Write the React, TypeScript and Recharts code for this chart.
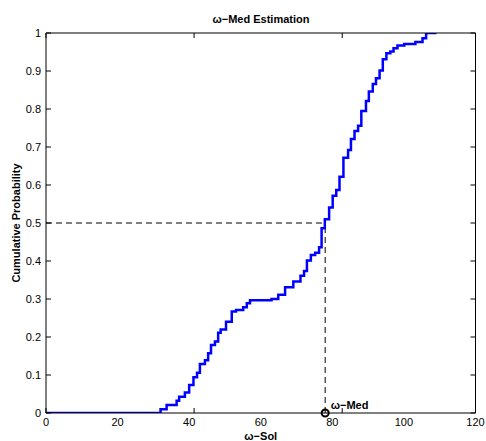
import React from 'react';
import { LineChart, Line, XAxis, YAxis, ReferenceLine, ReferenceDot } from 'recharts';

const cdfX = [0, 32.0, 33.7, 36.5, 37.2, 38.8, 40.0, 41.2, 42.2, 43.0, 44.4, 45.3, 46.1, 47.2, 48.1, 48.8, 50.3, 51.9, 53.1, 55.1, 56.1, 57.0, 63.0, 64.9, 66.8, 69.1, 71.1, 72.1, 72.9, 74.0, 75.2, 76.3, 77.0, 77.9, 79.1, 80.1, 81.1, 82.0, 83.1, 84.4, 85.2, 86.2, 87.2, 88.1, 89.4, 90.2, 91.3, 92.2, 93.2, 94.1, 95.1, 96.2, 97.1, 98.2, 100.1, 103.2, 105.2, 106.2, 109.1];
const cdfY = [0, 0.01, 0.021, 0.032, 0.043, 0.054, 0.074, 0.094, 0.106, 0.129, 0.139, 0.157, 0.179, 0.188, 0.211, 0.22, 0.24, 0.267, 0.271, 0.278, 0.289, 0.297, 0.3, 0.311, 0.331, 0.346, 0.361, 0.374, 0.401, 0.416, 0.422, 0.436, 0.486, 0.51, 0.541, 0.572, 0.587, 0.622, 0.672, 0.692, 0.721, 0.742, 0.756, 0.795, 0.821, 0.846, 0.866, 0.881, 0.901, 0.931, 0.947, 0.951, 0.96, 0.967, 0.971, 0.976, 0.986, 1.0, 1.0];
const xTicks = [0, 20, 40, 60, 80, 100, 120];
const yTicks = [0, 0.1, 0.2, 0.3, 0.4, 0.5, 0.6, 0.7, 0.8, 0.9, 1];
const yTickLabels = ['0', '0.1', '0.2', '0.3', '0.4', '0.5', '0.6', '0.7', '0.8', '0.9', '1'];
const medianValue = 78;
const medianProb = 0.5;
const titleText = 'ω−Med Estimation';
const xLabelText = 'ω−Sol';
const yLabelText = 'Cumulative Probability';
const medLabelText = 'ω−Med';

const data = cdfX.map((x, i) => ({ x, y: cdfY[i] }));

const FONT = '"Liberation Sans", Arial, Helvetica, sans-serif';

const EmptyTick = () => <g />;

export default function App() {
  return (
    <div style={{ width: 486, height: 441, overflow: 'hidden', background: '#fff' }}>
      <style>{`body{margin:0}`}</style>
      <div style={{ position: 'relative', left: 8, top: 8, width: 478, height: 433, fontFamily: FONT }}>
        <div
          style={{
            position: 'absolute',
            left: 38,
            width: 430,
            top: 4,
            lineHeight: '14px',
            textAlign: 'center',
            fontSize: 11,
            fontWeight: 'bold',
            color: '#000',
          }}
        >
          {titleText}
        </div>
        <LineChart
          width={478}
          height={433}
          data={data}
          margin={{ top: 25, right: 10.5, bottom: 0, left: 0 }}
          style={{ overflow: 'visible' }}
        >
          <XAxis
            dataKey="x"
            type="number"
            domain={[0, 120]}
            allowDataOverflow
            ticks={xTicks}
            interval={0}
            tickLine={false}
            tickSize={3}
            tickMargin={2}
            height={28}
            axisLine={{ stroke: '#000', strokeWidth: 1 }}
            tick={{ fontSize: 11, fill: '#000', fontFamily: FONT }}
            label={{
              content: (props: any) => {
                const vb = props.viewBox || {};
                return (
                  <text
                    x={vb.x + vb.width / 2}
                    y={vb.y + 27}
                    textAnchor="middle"
                    fontSize={11}
                    fontWeight="bold"
                    fill="#000"
                    fontFamily={FONT}
                  >
                    {xLabelText}
                  </text>
                );
              },
            }}
          />
          <XAxis
            xAxisId="bm"
            type="number"
            domain={[0, 120]}
            allowDataOverflow
            ticks={xTicks}
            interval={0}
            orientation="bottom"
            mirror
            tick={<EmptyTick />}
            tickSize={5}
            axisLine={false}
            tickLine={{ stroke: '#000' }}
          />
          <XAxis
            xAxisId="top"
            type="number"
            domain={[0, 120]}
            allowDataOverflow
            ticks={xTicks}
            interval={0}
            orientation="top"
            mirror
            tick={<EmptyTick />}
            tickSize={5}
            axisLine={{ stroke: '#000', strokeWidth: 1 }}
            tickLine={{ stroke: '#000' }}
          />
          <YAxis
            type="number"
            domain={[0, 1]}
            allowDataOverflow
            ticks={yTicks}
            interval={0}
            width={38}
            tickLine={false}
            tickSize={5}
            tickMargin={0}
            tickFormatter={(v: number) => yTickLabels[yTicks.indexOf(v)] ?? String(v)}
            axisLine={{ stroke: '#000', strokeWidth: 1 }}
            tick={{ fontSize: 11, fill: '#000', fontFamily: FONT }}
            label={{
              content: (props: any) => {
                const vb = props.viewBox || {};
                const cx = vb.x + 8;
                const cy = vb.y + vb.height / 2;
                return (
                  <text
                    x={cx}
                    y={cy}
                    transform={`rotate(-90 ${cx} ${cy})`}
                    textAnchor="middle"
                    dominantBaseline="central"
                    fontSize={11}
                    fontWeight="bold"
                    fill="#000"
                    fontFamily={FONT}
                  >
                    {yLabelText}
                  </text>
                );
              },
            }}
          />
          <YAxis
            yAxisId="lm"
            type="number"
            domain={[0, 1]}
            allowDataOverflow
            ticks={yTicks}
            interval={0}
            orientation="left"
            mirror
            tick={<EmptyTick />}
            tickSize={5}
            axisLine={false}
            tickLine={{ stroke: '#000' }}
          />
          <YAxis
            yAxisId="right"
            type="number"
            domain={[0, 1]}
            allowDataOverflow
            ticks={yTicks}
            interval={0}
            orientation="right"
            mirror
            tick={<EmptyTick />}
            tickSize={5}
            axisLine={{ stroke: '#000', strokeWidth: 1 }}
            tickLine={{ stroke: '#000' }}
          />
          <ReferenceLine
            segment={[{ x: 0, y: medianProb }, { x: medianValue, y: medianProb }]}
            stroke="#000"
            strokeWidth={1}
            strokeDasharray="6 4"
            ifOverflow="visible"
          />
          <ReferenceLine
            segment={[{ x: medianValue, y: 0 }, { x: medianValue, y: medianProb }]}
            stroke="#000"
            strokeWidth={1}
            strokeDasharray="6 4"
            ifOverflow="visible"
          />
          <Line
            type="stepAfter"
            dataKey="y"
            stroke="#0000ff"
            strokeWidth={2.5}
            dot={false}
            activeDot={false}
            isAnimationActive={false}
          />
          <ReferenceDot
            x={medianValue}
            y={0}
            r={3.5}
            fill="none"
            stroke="#000"
            strokeWidth={2}
            ifOverflow="visible"
            label={{
              content: (props: any) => {
                const vb = props.viewBox || {};
                return (
                  <text
                    x={vb.x + vb.width + 2}
                    y={vb.y - 0.5}
                    textAnchor="start"
                    fontSize={11}
                    fontWeight="bold"
                    fill="#000"
                    fontFamily={FONT}
                  >
                    {medLabelText}
                  </text>
                );
              },
            }}
          />
        </LineChart>
      </div>
    </div>
  );
}
